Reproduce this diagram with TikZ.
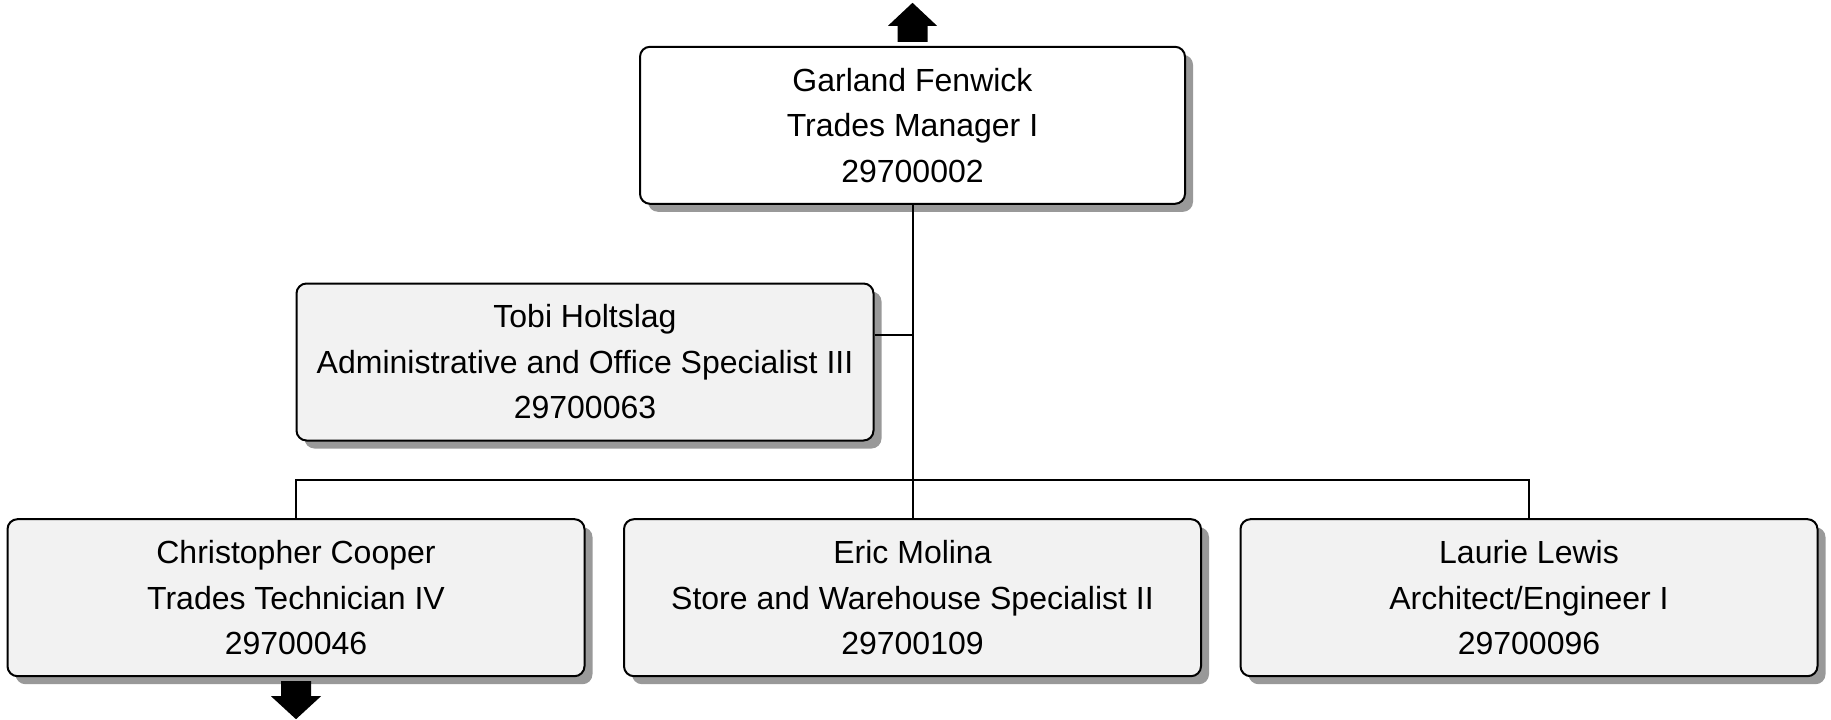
\documentclass[tikz,border=0pt]{standalone}
\usepackage{fontspec}
\setmainfont{Liberation Sans}
\usetikzlibrary{shadows,calc}
\tikzset{
  person/.style={draw=black, line width=2pt, rounded corners=10pt, align=center,
    minimum height=157pt, inner sep=0pt,
    font=\fontsize{32}{45.5}\selectfont,
    drop shadow={shadow xshift=8pt, shadow yshift=-8pt, fill=black!40, opacity=1}},
  topbox/.style={person, fill=white, minimum width=545pt},
  subbox/.style={person, fill=black!5, minimum width=577pt},
  link/.style={draw=black, line width=2pt},
  blockarrow/.style={fill=black}
}
\begin{document}
\begin{tikzpicture}[x=1pt,y=-1pt]
\useasboundingbox (0,0) rectangle (1831,720);
\node[topbox] (top) at (912.5,125.3) {Garland Fenwick\\Trades Manager I\\29700002};
\node[subbox] (tobi) at (585,362) {Tobi Holtslag\\Administrative and Office Specialist III\\29700063};
\node[subbox] (cc) at (296,597.7) {Christopher Cooper\\Trades Technician IV\\29700046};
\node[subbox] (em) at (912.5,597.7) {Eric Molina\\Store and Warehouse Specialist II\\29700109};
\node[subbox] (ll) at (1529,597.7) {Laurie Lewis\\Architect/Engineer I\\29700096};
\coordinate (bus) at (0,480);
% connectors
\draw[link] (top.south) -- (em.north);
\draw[link] ([yshift=27pt]tobi.east) -- ([yshift=27pt]tobi.east -| top.south);
\draw[link] (cc.north) -- (cc.north |- bus) -- (ll.north |- bus) -- (ll.north);
% block arrows
\begin{scope}[shift={(top.north)}]
  \fill[blockarrow] (-15,-4) -- (-15,-20) -- (-24.5,-20) -- (0,-43) -- (24.5,-20) -- (15,-20) -- (15,-4) -- cycle;
\end{scope}
\begin{scope}[shift={(cc.south)}]
  \fill[blockarrow] (-15,4) -- (15,4) -- (15,19) -- (25,19) -- (0,42) -- (-25,19) -- (-15,19) -- cycle;
\end{scope}
\end{tikzpicture}
\end{document}
